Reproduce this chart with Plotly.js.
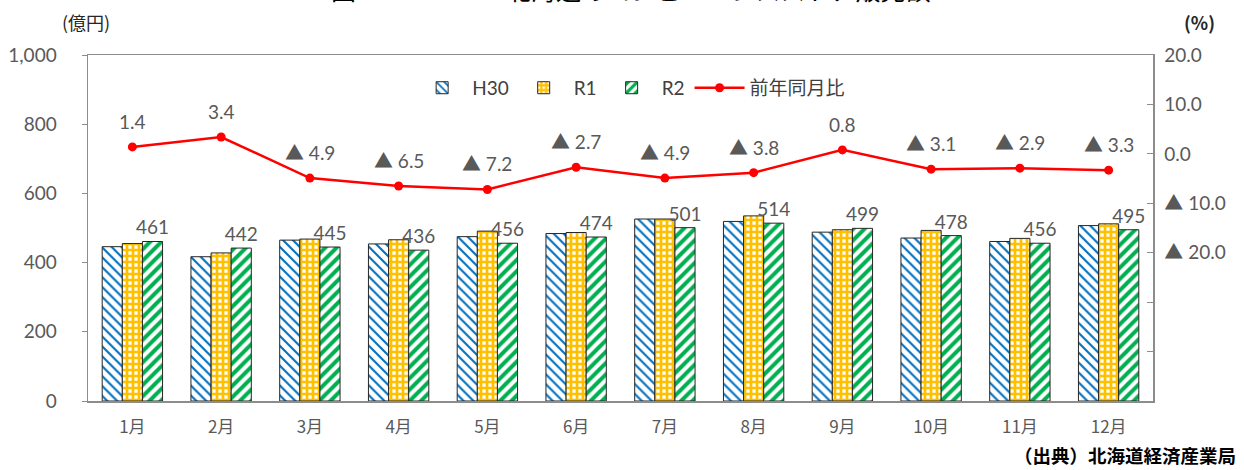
<!DOCTYPE html>
<html>
<head>
<meta charset="utf-8">
<script src="https://cdn.plot.ly/plotly-3.0.1.min.js"></script>
<style>
  html, body { margin: 0; padding: 0; background: #fff; }
  #chart { width: 1244px; height: 470px; }
</style>
</head>
<body>
<div id="chart"></div>
<script>
// Monthly sales (億円) by fiscal year, and year-on-year change (%) of R2
const months = ["1月", "2月", "3月", "4月", "5月", "6月", "7月", "8月", "9月", "10月", "11月", "12月"];
const salesH30 = [446, 417, 465, 454, 475, 484, 526, 519, 488, 471, 461, 507];
const salesR1  = [455, 428, 468, 466, 491, 487, 526, 535, 495, 493, 470, 512];
const salesR2  = [461, 442, 445, 436, 456, 474, 501, 514, 499, 478, 456, 495];
const yoyChange = [1.4, 3.4, -4.9, -6.5, -7.2, -2.7, -4.9, -3.8, 0.8, -3.1, -2.9, -3.3];

const pctTickVals = [-50, -40, -30, -20, -10, 0, 10, 20];
const pctTickText = ["", "", "", "▲ 20.0", "▲ 10.0", "0.0", "10.0", "20.0"];

const FONT = "Lato, 'Noto Sans CJK JP', sans-serif";
const JP_FONT = "'Noto Sans CJK JP', sans-serif";
const GREY = "#595959";

// Negative values are written with a ▲ prefix
const fmtPct = v => (v < 0 ? "▲ " + Math.abs(v).toFixed(1) : v.toFixed(1));

const barLine = { color: "#262626", width: 1 };

const traces = [
  {
    type: "bar", name: "H30", x: months, y: salesH30,
    marker: {
      color: "#ffffff", line: barLine,
      pattern: { shape: "\\", fgcolor: "#0070C0", bgcolor: "#ffffff", size: 7, solidity: 0.3 }
    },
    hoverinfo: "skip"
  },
  {
    type: "bar", name: "R1", x: months, y: salesR1,
    marker: {
      color: "#FFC000", line: barLine,
      pattern: { shape: "+", fgcolor: "#FFC000", bgcolor: "#ffffff", size: 6, solidity: 0.7 }
    },
    hoverinfo: "skip"
  },
  {
    type: "bar", name: "R2", x: months, y: salesR2,
    text: salesR2.map(String), textposition: "outside", cliponaxis: false,
    constraintext: "none",
    textfont: { family: FONT, size: 19, color: GREY },
    marker: {
      color: "#ffffff", line: barLine,
      pattern: { shape: "/", fgcolor: "#00B050", bgcolor: "#ffffff", size: 8, solidity: 0.5 }
    },
    hoverinfo: "skip"
  },
  {
    type: "scatter", mode: "lines+markers", name: "前年同月比",
    x: months, y: yoyChange, yaxis: "y2",
    line: { color: "#FF0000", width: 2.5 },
    marker: { color: "#FF0000", size: 9 },
    hoverinfo: "skip"
  }
];

// Labels for the year-on-year line, set above each point
const pctLabels = months.map((m, i) => ({
  x: m, y: yoyChange[i], xref: "x", yref: "y2",
  text: fmtPct(yoyChange[i]), showarrow: false,
  yanchor: "bottom", yshift: 12,
  font: { family: FONT, size: 19, color: GREY }
}));

const layout = {
  width: 1244, height: 470,
  margin: { l: 88, r: 91, t: 55, b: 69, pad: 0 },
  paper_bgcolor: "#ffffff", plot_bgcolor: "#ffffff",
  font: { family: FONT, color: GREY },
  barmode: "group", bargap: 0.32, bargroupgap: 0,
  showlegend: true,
  legend: {
    orientation: "h", x: 0.51, xanchor: "center", y: 0.905, yanchor: "middle",
    font: { family: FONT, size: 19, color: "#404040" },
    itemwidth: 50, tracegroupgap: 0, bgcolor: "rgba(0,0,0,0)"
  },
  xaxis: {
    type: "category", range: [-0.5, 11.5], showline: true, mirror: true,
    linecolor: "#8c8c8c", linewidth: 1.5,
    ticks: "", showgrid: false, zeroline: false,
    tickfont: { family: JP_FONT, size: 17, color: GREY },
    ticklabelstandoff: 10
  },
  yaxis: {
    range: [0, 1000], tickvals: [0, 200, 400, 600, 800, 1000], tickformat: ",",
    showline: true, linecolor: "#8c8c8c", linewidth: 1.5,
    ticks: "outside", ticklen: 5, tickcolor: "#8c8c8c",
    showgrid: false, zeroline: false,
    tickfont: { family: FONT, size: 19, color: GREY },
    ticklabelstandoff: 21
  },
  yaxis2: {
    overlaying: "y", side: "right", range: [-50, 20],
    tickvals: pctTickVals, ticktext: pctTickText,
    showline: true, linecolor: "#8c8c8c", linewidth: 1.5,
    ticks: "inside", ticklen: 6, tickcolor: "#8c8c8c",
    showgrid: false, zeroline: false,
    tickfont: { family: FONT, size: 19, color: GREY },
    ticklabelstandoff: 6
  },
  annotations: [
    ...pctLabels,
    {
      text: "図２－１－５　北海道のコンビニエンスストア販売額",
      xref: "paper", yref: "paper", x: 0.51, y: 1.134,
      xanchor: "center", yanchor: "bottom", showarrow: false,
      font: { family: JP_FONT, size: 25, color: "#000000" }
    },
    {
      text: "(億円)", xref: "paper", yref: "paper", x: -0.002, y: 1.095,
      xanchor: "center", yanchor: "middle", showarrow: false,
      font: { family: JP_FONT, size: 18, color: "#262626" }
    },
    {
      text: "(%)", xref: "paper", yref: "paper", x: 1.044, y: 1.095,
      xanchor: "center", yanchor: "middle", showarrow: false,
      font: { family: JP_FONT, size: 18, color: "#262626", weight: 700 }
    },
    {
      text: "（出典）北海道経済産業局", xref: "paper", yref: "paper", x: 1.08, y: -0.155,
      xanchor: "right", yanchor: "middle", showarrow: false,
      font: { family: JP_FONT, size: 18.5, color: "#000000", weight: 700 }
    }
  ]
};

Plotly.newPlot("chart", traces, layout, { staticPlot: true, displayModeBar: false });
</script>
</body>
</html>
